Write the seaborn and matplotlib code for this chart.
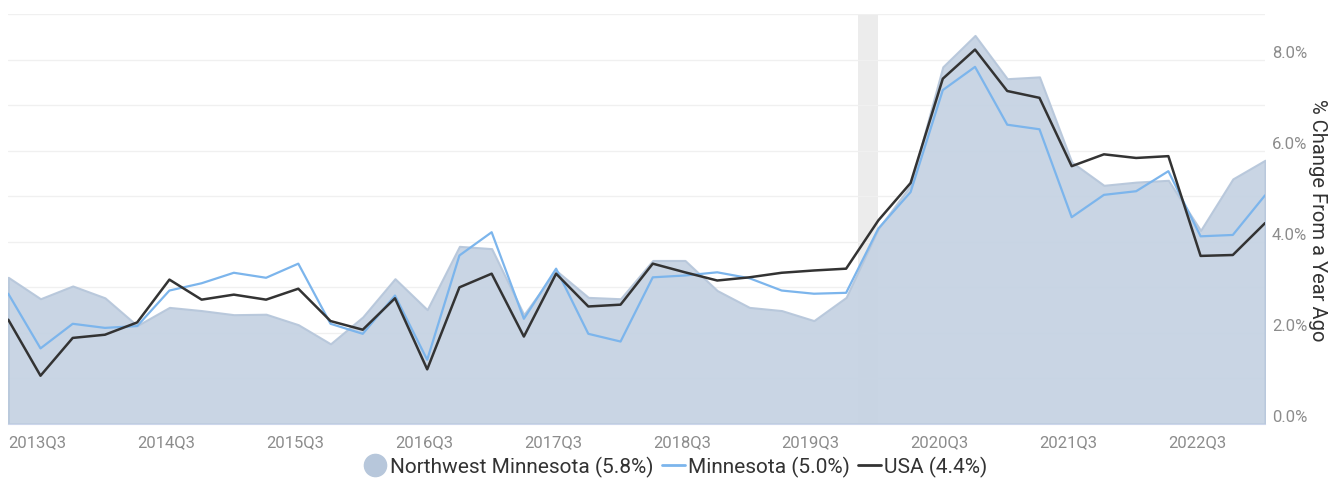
#!/usr/bin/env python3
import numpy as np
import pandas as pd
import seaborn as sns
from matplotlib import pyplot as plt
from matplotlib.lines import Line2D

# Quarterly % change from a year ago, 2013Q3 .. 2023Q2
quarters = [str(p) for p in pd.period_range("2013Q3", "2023Q2", freq="Q")]

northwest_mn = [
    3.22, 2.75, 3.03, 2.77, 2.16, 2.56, 2.49, 2.40, 2.41, 2.18,
    1.76, 2.35, 3.19, 2.51, 3.90, 3.85, 2.40, 3.37, 2.78, 2.75,
    3.59, 3.59, 2.93, 2.56, 2.49, 2.27, 2.78, 4.29, 5.24, 7.84,
    8.53, 7.58, 7.62, 5.75, 5.24, 5.31, 5.35, 4.25, 5.38, 5.79,
]
minnesota = [
    2.86, 1.66, 2.20, 2.11, 2.15, 2.93, 3.09, 3.32, 3.21, 3.52,
    2.20, 1.98, 2.82, 1.41, 3.70, 4.21, 2.31, 3.41, 1.98, 1.81,
    3.22, 3.26, 3.33, 3.20, 2.93, 2.86, 2.88, 4.29, 5.09, 7.33,
    7.84, 6.57, 6.47, 4.54, 5.03, 5.11, 5.55, 4.12, 4.15, 5.02,
]
usa = [
    2.29, 1.06, 1.89, 1.96, 2.23, 3.17, 2.73, 2.84, 2.73, 2.97,
    2.26, 2.07, 2.76, 1.20, 3.00, 3.30, 1.92, 3.30, 2.58, 2.62,
    3.52, 3.33, 3.15, 3.22, 3.32, 3.37, 3.41, 4.47, 5.29, 7.58,
    8.22, 7.31, 7.16, 5.66, 5.92, 5.84, 5.88, 3.69, 3.71, 4.41,
]

# Recession band (Feb-Apr 2020), in quarter index units
recession = (26.37, 27.0)

AREA = "#c6d3e3"
AREA_EDGE = "#b7c7db"
BLUE = "#7cb5ec"
DARK = "#333333"
AXIS = "#ccd6eb"


def main() -> None:
    sns.set_style("white")
    plt.rcParams["font.family"] = ["Roboto", "DejaVu Sans"]

    df = pd.DataFrame(
        {
            "idx": np.arange(len(quarters)),
            "quarter": quarters,
            "Northwest Minnesota": northwest_mn,
            "Minnesota": minnesota,
            "USA": usa,
        }
    )

    fig = plt.figure(figsize=(13.35, 4.81), dpi=100)
    ax = fig.add_axes([0.0062, 0.1164, 0.9414, 0.8524])

    ax.axvspan(*recession, color="#ececec", zorder=0, lw=0)
    ax.fill_between(df["idx"], df["Northwest Minnesota"], 0,
                    facecolor=AREA, edgecolor=AREA_EDGE, lw=1.5, alpha=0.95, zorder=1)
    sns.lineplot(data=df, x="idx", y="Minnesota", color=BLUE, lw=1.6, ax=ax, zorder=3)
    sns.lineplot(data=df, x="idx", y="USA", color=DARK, lw=1.8, ax=ax, zorder=4)

    ax.set_xlim(0, len(quarters) - 1)
    ax.set_ylim(0, 9)

    # y axis on the right, gridlines every 1%, labels every 2%
    ax.yaxis.tick_right()
    ax.yaxis.set_label_position("right")
    ax.set_yticks(np.arange(0, 10, 1))
    ax.set_yticklabels([f"{v:.1f}%" if v % 2 == 0 and v < 9 else "" for v in range(10)])
    ax.grid(axis="y", color="#f0f0f0", lw=1)
    ax.tick_params(axis="y", length=0, pad=5, labelsize=12, labelcolor="#8c8c8c")
    for t in ax.get_yticklabels():
        t.set_verticalalignment("bottom")
    ax.set_ylabel("% Change From a Year Ago", rotation=270, labelpad=14,
                  fontsize=14.5, color=DARK)

    xt = list(range(0, len(quarters), 4))
    ax.set_xticks(xt)
    ax.set_xticklabels([quarters[i] for i in xt], ha="left")
    ax.tick_params(axis="x", length=5, width=1, color=AXIS, pad=2,
                   labelsize=12, labelcolor="#8c8c8c")
    ax.set_xlabel("")

    for side in ("top", "left", "right"):
        ax.spines[side].set_visible(False)
    ax.spines["bottom"].set_color(AXIS)
    ax.spines["bottom"].set_zorder(5)

    handles = [
        Line2D([], [], marker="o", markersize=16, color=AREA_EDGE, ls="none"),
        Line2D([], [], color=BLUE, lw=2),
        Line2D([], [], color=DARK, lw=2),
    ]
    labels = [
        f"Northwest Minnesota ({northwest_mn[-1]:.1f}%)",
        f"Minnesota ({minnesota[-1]:.1f}%)",
        f"USA ({usa[-1]:.1f}%)",
    ]
    fig.legend(handles, labels, loc="center", bbox_to_anchor=(0.506, 0.028),
               ncol=3, frameon=False, fontsize=15, handlelength=1.1,
               handletextpad=0.15, columnspacing=0.4, labelcolor=DARK)

    fig.savefig("out.png", dpi=100)
    plt.close(fig)


if __name__ == "__main__":
    main()
